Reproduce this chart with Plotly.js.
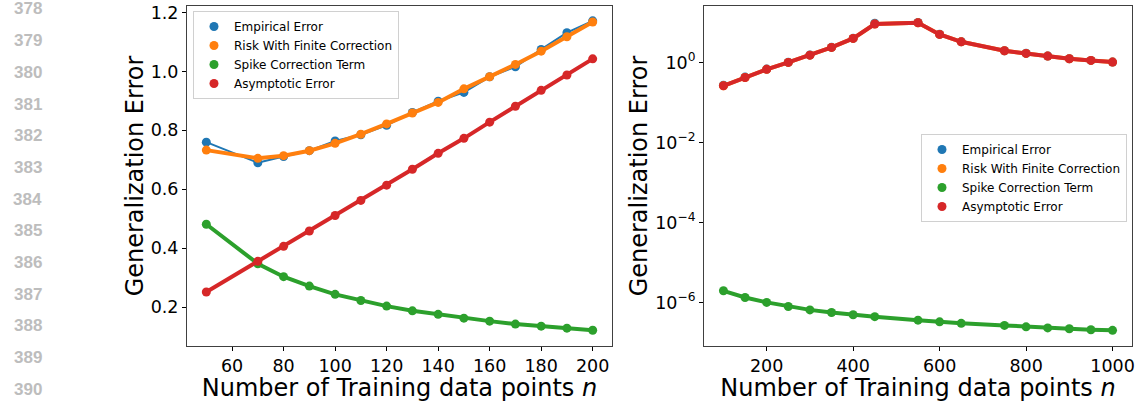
<!DOCTYPE html>
<html>
<head>
<meta charset="utf-8">
<script src="https://cdn.plot.ly/plotly-3.0.1.min.js"></script>
<style>html,body{margin:0;padding:0;background:#fff;}#chart{width:1139px;height:402px;}</style>
</head>
<body>
<div id="chart"></div>
<script>
// ---- Left panel data ----
const nLeft = [50, 70, 80, 90, 100, 110, 120, 130, 140, 150, 160, 170, 180, 190, 200];
const empiricalLeft = [0.760, 0.690, 0.711, 0.731, 0.764, 0.785, 0.817, 0.861, 0.899, 0.929, 0.982, 1.016, 1.075, 1.132, 1.172];
const finiteLeft    = [0.733, 0.705, 0.714, 0.731, 0.756, 0.787, 0.822, 0.859, 0.895, 0.941, 0.982, 1.024, 1.069, 1.118, 1.168];
const spikeLeft     = [0.481, 0.347, 0.303, 0.271, 0.243, 0.222, 0.203, 0.187, 0.175, 0.162, 0.152, 0.142, 0.135, 0.128, 0.121];
const asymLeft      = [0.251, 0.355, 0.406, 0.458, 0.511, 0.562, 0.614, 0.668, 0.722, 0.773, 0.828, 0.882, 0.936, 0.988, 1.043];

// ---- Right panel data ----
const nRight = [100, 150, 200, 250, 300, 350, 400, 450, 550, 600, 650, 750, 800, 850, 900, 950, 1000];
const empiricalRight = [0.27, 0.43, 0.68, 1.01, 1.53, 2.38, 3.99, 9.5, 10.0, 5.05, 3.30, 1.96, 1.69, 1.45, 1.24, 1.12, 1.02];
const finiteRight    = [0.26, 0.42, 0.67, 1.00, 1.52, 2.37, 3.98, 9.1, 9.8, 5.00, 3.27, 1.95, 1.68, 1.44, 1.23, 1.12, 1.02];
const spikeRight     = [1.95e-6, 1.33e-6, 1.0e-6, 7.9e-7, 6.5e-7, 5.6e-7, 4.9e-7, 4.4e-7, 3.6e-7, 3.27e-7, 3.0e-7, 2.66e-7, 2.45e-7, 2.3e-7, 2.19e-7, 2.07e-7, 2.0e-7];
const asymRight      = [0.26, 0.42, 0.67, 1.00, 1.52, 2.37, 3.98, 9.1, 9.8, 5.00, 3.27, 1.95, 1.68, 1.44, 1.23, 1.12, 1.02];

const seriesNames = ["Empirical Error", "Risk With Finite Correction", "Spike Correction Term", "Asymptotic Error"];
const seriesColors = ["#1f77b4", "#ff7f0e", "#2ca02c", "#d62728"];
const lineWidths = [2, 4, 4, 4];

const yTickValsLeft = [0.2, 0.4, 0.6, 0.8, 1.0, 1.2];
const xTickValsLeft = [60, 80, 100, 120, 140, 160, 180, 200];
const xTickValsRight = [200, 400, 600, 800, 1000];
const yTickValsRight = [1, 1e-2, 1e-4, 1e-6];
const yTickTextRight = ["10<sup>0</sup>", "10<sup>\u22122</sup>", "10<sup>\u22124</sup>", "10<sup>\u22126</sup>"];
const lineNumbers = ["378","379","380","381","382","383","384","385","386","387","388","389","390"];

const FONT = "DejaVu Sans, sans-serif";
const traces = [];
function addSeries(x, ys, xa, ya, legendName) {
  ys.forEach((y, i) => {
    traces.push({x: x, y: y, xaxis: xa, yaxis: ya, mode: "lines", type: "scatter",
      line: {color: seriesColors[i], width: lineWidths[i]}, showlegend: false, hoverinfo: "skip"});
    traces.push({x: x, y: y, xaxis: xa, yaxis: ya, mode: "markers", type: "scatter",
      name: seriesNames[i], legend: legendName,
      marker: {color: seriesColors[i], size: 9}, showlegend: true});
  });
}
addSeries(nLeft, [empiricalLeft, finiteLeft, spikeLeft, asymLeft], "x", "y", "legend");
addSeries(nRight, [empiricalRight, finiteRight, spikeRight, asymRight], "x2", "y2", "legend2");

const W = 1139, H = 402;
const axisCommon = {
  showline: true, mirror: true, linecolor: "#404040", linewidth: 1,
  ticks: "outside", ticklen: 4, tickwidth: 1, tickcolor: "#000",
  showgrid: false, zeroline: false,
  tickfont: {family: FONT, size: 17.5, color: "#000"},
  automargin: false
};
const titleFont = {family: FONT, size: 24, color: "#000"};

const annotations = lineNumbers.map((t, i) => ({
  text: "<b>" + t + "</b>", xref: "paper", yref: "paper", x: 44 / W, y: 1 - (9 + 31.67 * i) / H,
  xanchor: "right", yanchor: "middle", showarrow: false,
  font: {family: "Liberation Sans, Arial, sans-serif", size: 17, color: "#bdbdbd"}
}));

const layout = {
  width: W, height: H,
  margin: {l: 0, r: 0, t: 0, b: 0},
  paper_bgcolor: "#fff", plot_bgcolor: "#fff",
  font: {family: FONT},
  showlegend: true,
  xaxis: Object.assign({}, axisCommon, {
    domain: [187 / W, 612 / W], range: [42.5, 207.5], tickvals: xTickValsLeft,
    title: {text: "Number of Training data points <i>n</i>", font: titleFont, standoff: 0}
  }),
  yaxis: Object.assign({}, axisCommon, {
    domain: [1 - 346 / H, 1 - 6 / H], range: [0.0675, 1.2225], tickvals: yTickValsLeft, tickformat: ".1f",
    title: {text: "Generalization Error", font: titleFont, standoff: 0}
  }),
  xaxis2: Object.assign({}, axisCommon, {
    domain: [704 / W, 1132 / W], range: [55, 1045], tickvals: xTickValsRight, anchor: "y2",
    title: {text: "Number of Training data points <i>n</i>", font: titleFont, standoff: 0}
  }),
  yaxis2: Object.assign({}, axisCommon, {
    domain: [1 - 346 / H, 1 - 6 / H], type: "log", range: [-7.09, 1.41], anchor: "x2",
    tickvals: yTickValsRight, ticktext: yTickTextRight,
    title: {text: "Generalization Error", font: titleFont, standoff: 0}
  }),
  legend: {
    x: 193 / W, y: 1 - 11 / H, xanchor: "left", yanchor: "top",
    bgcolor: "rgba(255,255,255,0.8)", bordercolor: "#d0d0d0", borderwidth: 1,
    font: {family: FONT, size: 12, color: "#000"}, tracegroupgap: 0
  },
  legend2: {
    x: 921 / W, y: 1 - 134 / H, xanchor: "left", yanchor: "top",
    bgcolor: "rgba(255,255,255,0.8)", bordercolor: "#d0d0d0", borderwidth: 1,
    font: {family: FONT, size: 12, color: "#000"}, tracegroupgap: 0
  },
  annotations: annotations
};

Plotly.newPlot("chart", traces, layout, {displayModeBar: false, staticPlot: true});
</script>
</body>
</html>
